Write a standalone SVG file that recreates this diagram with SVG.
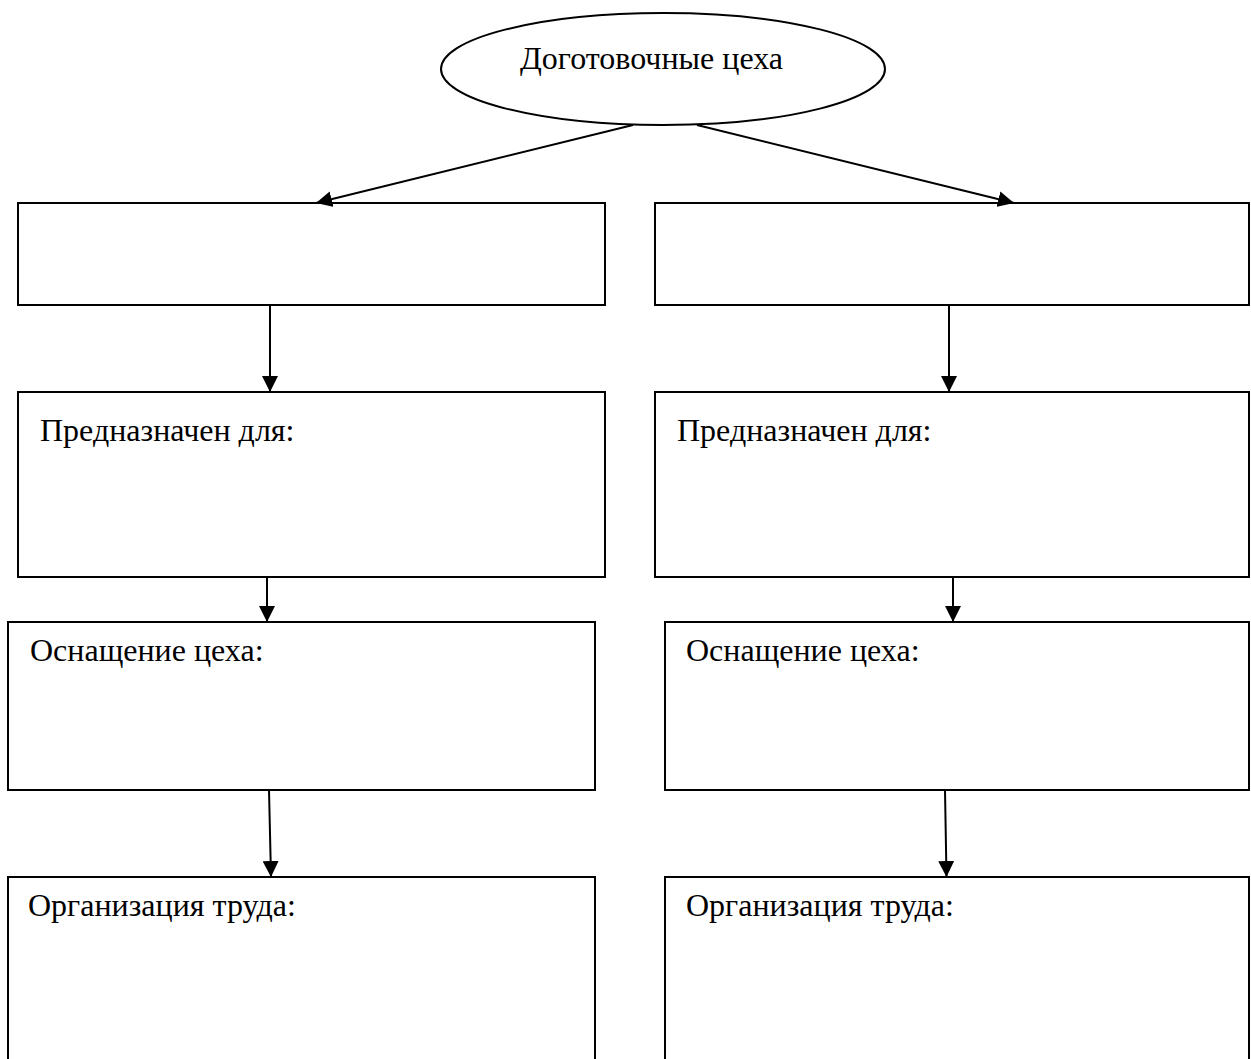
<svg xmlns="http://www.w3.org/2000/svg" width="1251" height="1059" viewBox="0 0 1251 1059">
<style>
.box{fill:#fff;stroke:#000;stroke-width:2}
.lbl{font-family:"Liberation Serif","Times New Roman",serif;font-size:32px;fill:#000}
.con{stroke:#000;stroke-width:2;fill:none}
</style>
<defs>
<marker id="ah" viewBox="0 0 16 16" refX="16" refY="8" markerWidth="16" markerHeight="16" markerUnits="userSpaceOnUse" orient="auto">
<path d="M0,0 L16,8 L0,16 Z" fill="#000"/>
</marker>
</defs>
<rect width="1251" height="1059" fill="#fff"/>
<g id="top">
<ellipse class="box" cx="663" cy="69" rx="222" ry="56"/>
<text class="lbl" x="520" y="69">Доготовочные цеха</text>
</g>
<g id="b1l"><rect class="box" x="18" y="203" width="587" height="102"/></g>
<g id="b1r"><rect class="box" x="655" y="203" width="594" height="102"/></g>
<g id="b2l"><rect class="box" x="18" y="392" width="587" height="185"/><text class="lbl" x="40" y="441">Предназначен для:</text></g>
<g id="b2r"><rect class="box" x="655" y="392" width="594" height="185"/><text class="lbl" x="677" y="441">Предназначен для:</text></g>
<g id="b3l"><rect class="box" x="8" y="622" width="587" height="168"/><text class="lbl" x="30" y="661">Оснащение цеха:</text></g>
<g id="b3r"><rect class="box" x="665" y="622" width="584" height="168"/><text class="lbl" x="686" y="661">Оснащение цеха:</text></g>
<g id="b4l"><rect class="box" x="8" y="877" width="587" height="190"/><text class="lbl" x="28" y="916">Организация труда:</text></g>
<g id="b4r"><rect class="box" x="665" y="877" width="584" height="190"/><text class="lbl" x="686" y="916">Организация труда:</text></g>
<g id="connectors">
<line class="con" x1="633" y1="125" x2="316" y2="203" marker-end="url(#ah)"/>
<line class="con" x1="697" y1="125" x2="1014" y2="203" marker-end="url(#ah)"/>
<line class="con" x1="270" y1="305" x2="270" y2="392" marker-end="url(#ah)"/>
<line class="con" x1="949" y1="305" x2="949" y2="392" marker-end="url(#ah)"/>
<line class="con" x1="267" y1="577" x2="267" y2="622" marker-end="url(#ah)"/>
<line class="con" x1="953" y1="577" x2="953" y2="622" marker-end="url(#ah)"/>
<line class="con" x1="269" y1="790" x2="271" y2="877" marker-end="url(#ah)"/>
<line class="con" x1="945" y1="790" x2="946.5" y2="877" marker-end="url(#ah)"/>
</g>
</svg>
